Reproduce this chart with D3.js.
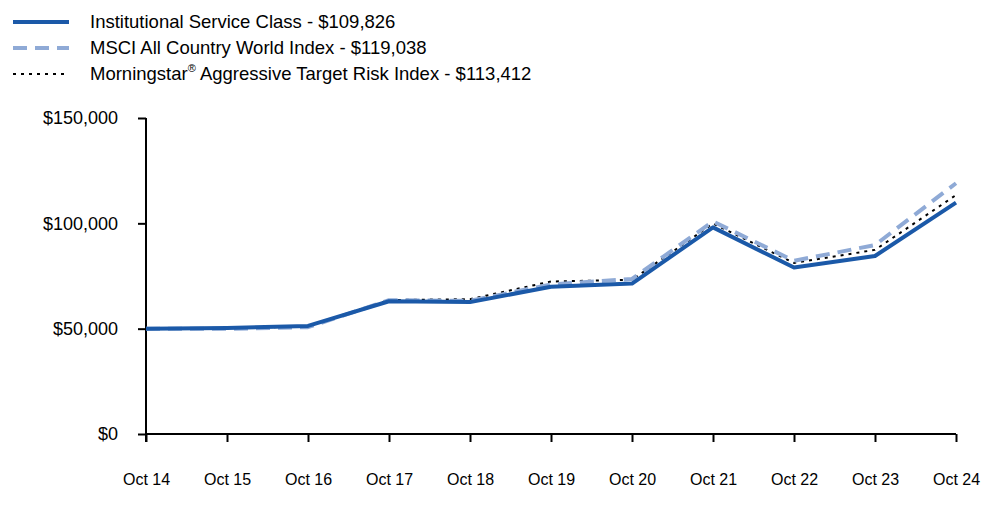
<!DOCTYPE html>
<html>
<head>
<meta charset="utf-8">
<script src="https://cdn.jsdelivr.net/npm/d3@7"></script>
<style>
  body { margin: 0; background: #fff; }
  text { font-family: Arial, "Liberation Sans", sans-serif; fill: #000; }
</style>
</head>
<body>
<div id="app"></div>
<script>
// data
let years = ["Oct 14", "Oct 15", "Oct 16", "Oct 17", "Oct 18", "Oct 19", "Oct 20", "Oct 21", "Oct 22", "Oct 23", "Oct 24"];
let institutional = [50000, 50300, 51300, 63000, 62600, 69900, 71400, 98100, 79000, 84500, 109826];
let msci = [50000, 49900, 50700, 63500, 63200, 71000, 73600, 100900, 82200, 89700, 119038];
let morningstar = [50000, 50200, 51100, 63600, 64000, 72400, 73200, 99900, 81200, 87400, 113412];
let yTicks = [0, 50000, 100000, 150000];

let series = [
    {name: ["Institutional Service Class - $109,826"], values: institutional, color: "#1b59a8", width: 4, dash: null},
    {name: ["MSCI All Country World Index - $119,038"], values: msci, color: "#8faad6", width: 4, dash: "14,8"},
    {name: ["Morningstar", "\u00AE", " Aggressive Target Risk Index - $113,412"], values: morningstar, color: "#000", width: 2, dash: "3,5"}
];

let svg = d3.select("#app")
.append("svg")
    .attr("width", 1000)
    .attr("height", 523)

let plotLeft = 146, plotRight = 956, plotTop = 118, plotBottom = 434;

let x = d3.scalePoint()
    .domain(years)
    .range([plotLeft, plotRight]);

let y = d3.scaleLinear()
    .domain([0, 150000])
    .range([plotBottom, plotTop]);

// y axis
let yAxis = svg.append("g")
    .attr("transform", "translate(" + plotLeft + ",0)")
    .call(d3.axisLeft(y).tickValues(yTicks).tickSize(8).tickPadding(20)
        .tickFormat(d => "$" + d3.format(",")(d)));
yAxis.selectAll("text").style("font-size", "18px");

// x axis
let xAxis = svg.append("g")
    .attr("transform", "translate(0," + plotBottom + ")")
    .call(d3.axisBottom(x).tickSize(8).tickPadding(32));
xAxis.selectAll("text").style("font-size", "16px");

svg.selectAll(".domain, .tick line")
    .attr("stroke", "#000")
    .attr("stroke-width", 2);
xAxis.select(".domain").attr("d", "M" + plotLeft + ",0H" + plotRight);
yAxis.select(".domain").attr("d", "M0," + plotTop + "V" + (plotBottom + 8));

// lines, drawn back to front
let line = d3.line()
    .x((d, i) => x(years[i]))
    .y(d => y(d));

svg.selectAll(".series")
    .data(series.slice().reverse())
    .enter()
    .append("path")
        .attr("class", "series")
        .attr("d", d => line(d.values))
        .attr("fill", "none")
        .attr("stroke", d => d.color)
        .attr("stroke-width", d => d.width)
        .attr("stroke-dasharray", d => d.dash)
        .attr("stroke-linejoin", "round");

// legend
let legend = svg.selectAll(".legend")
    .data(series)
    .enter()
    .append("g")
        .attr("class", "legend")
        .attr("transform", (d, i) => "translate(13," + (22 + i * 26) + ")");

legend.append("line")
    .attr("x1", 0)
    .attr("x2", 56)
    .attr("stroke", d => d.color)
    .attr("stroke-width", d => d.width)
    .attr("stroke-dasharray", d => d.dash);

let legendText = legend.append("text")
    .attr("x", 77)
    .attr("y", 6)
    .style("font-size", "18.5px");

legendText.selectAll("tspan")
    .data(d => d.name)
    .enter()
    .append("tspan")
        .text(t => t)
        .style("font-size", t => t === "\u00AE" ? "11px" : null)
        .attr("baseline-shift", t => t === "\u00AE" ? "70%" : null);
</script>
</body>
</html>
